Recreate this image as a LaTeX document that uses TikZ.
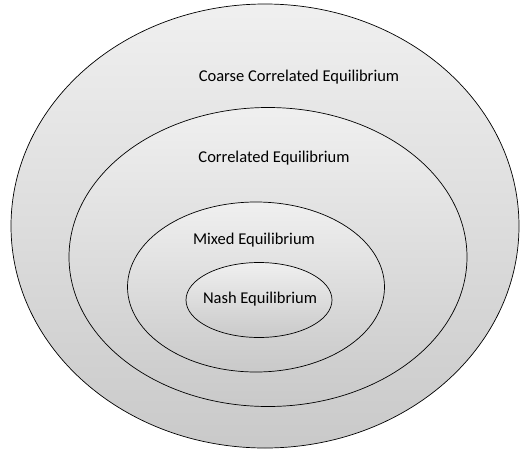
\documentclass[tikz,border=0pt]{standalone}
\usepackage{fontspec}
\setmainfont{Carlito}
\usetikzlibrary{shapes.geometric}
\tikzset{
  eqset/.style={ellipse,draw=black,line width=0.7pt,top color=gray!12,bottom color=gray!42,inner sep=0pt},
  eqlabel/.style={font=\fontsize{16.5}{19}\selectfont,inner sep=0pt}
}
\begin{document}
\begin{tikzpicture}[x=1pt,y=1pt]
  \useasboundingbox (0,0) rectangle (525,-453);
  % nested sets
  \node[eqset,minimum width=508,minimum height=444] (cce) at (265,-226) {};
  \node[eqset,minimum width=398,minimum height=299] (ce) at (268,-257) {};
  \node[eqset,minimum width=257,minimum height=170] (me) at (256,-287) {};
  \node[eqset,minimum width=146,minimum height=75] (ne) at (259,-300) {};
  % labels
  \node[eqlabel] (ccelab) at (299,-77) {Coarse Correlated Equilibrium};
  \node[eqlabel] (celab) at (274,-158) {Correlated Equilibrium};
  \node[eqlabel] (melab) at (254,-240) {Mixed Equilibrium};
  \node[eqlabel] (nelab) at (260,-299) {Nash Equilibrium};
\end{tikzpicture}
\end{document}
